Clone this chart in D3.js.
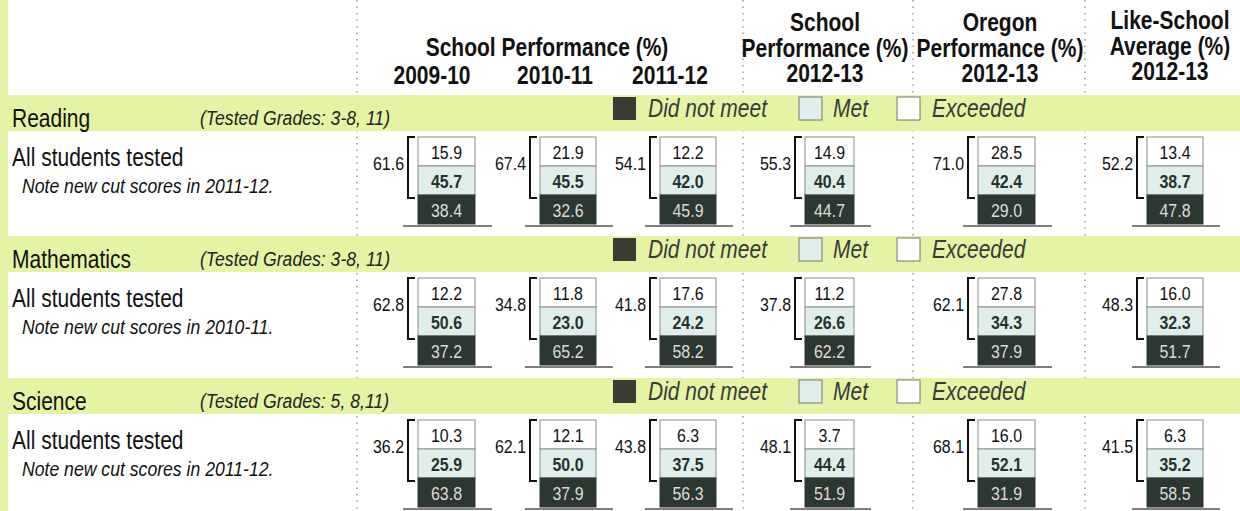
<!DOCTYPE html>
<html>
<head>
<meta charset="utf-8">
<script src="https://cdn.jsdelivr.net/npm/d3@7"></script>
<style>
  body { margin: 0; background: #fff; }
  svg text { font-family: "Liberation Sans", Arial, sans-serif; }
</style>
</head>
<body>
<div id="chart"></div>
<script>
const subjects = ["Reading", "Mathematics", "Science"];
const testedGrades = ["(Tested Grades: 3-8, 11)", "(Tested Grades: 3-8, 11)", "(Tested Grades: 5, 8,11)"];
const notes = ["Note new cut scores in 2011-12.", "Note new cut scores in 2010-11.", "Note new cut scores in 2011-12."];
const columns = ["2009-10", "2010-11", "2011-12", "School 2012-13", "Oregon 2012-13", "Like-School 2012-13"];
const levels = ["Exceeded", "Met", "Did not meet"];

// one row per subject, one value per column
const exceeded = [
  [15.9, 21.9, 12.2, 14.9, 28.5, 13.4],
  [12.2, 11.8, 17.6, 11.2, 27.8, 16.0],
  [10.3, 12.1, 6.3, 3.7, 16.0, 6.3]
];
const met = [
  [45.7, 45.5, 42.0, 40.4, 42.4, 38.7],
  [50.6, 23.0, 24.2, 26.6, 34.3, 32.3],
  [25.9, 50.0, 37.5, 44.4, 52.1, 35.2]
];
const didNotMeet = [
  [38.4, 32.6, 45.9, 44.7, 29.0, 47.8],
  [37.2, 65.2, 58.2, 62.2, 37.9, 51.7],
  [63.8, 37.9, 56.3, 51.9, 31.9, 58.5]
];
const metOrExceeded = [
  [61.6, 67.4, 54.1, 55.3, 71.0, 52.2],
  [62.8, 34.8, 41.8, 37.8, 62.1, 48.3],
  [36.2, 62.1, 43.8, 48.1, 68.1, 41.5]
];

const width = 1240, height = 511;
const green = "#e5f3a5";
const narrow = 0.84; // squeeze Liberation Sans to look like Arial Narrow

const svg = d3.select("#chart").append("svg")
  .attr("width", width)
  .attr("height", height);

// text helper, condensed horizontally
const addText = (parent, x, y, str) =>
  parent.append("text")
    .attr("transform", `translate(${x},${y}) scale(${narrow},1)`)
    .text(str);

// layout scales
const x = d3.scaleOrdinal().domain(columns).range([418, 540, 660, 805, 978, 1147]);
const boxW = d3.scaleOrdinal().domain(columns).range([57, 56, 56, 49, 57, 56]);
const rowY = d3.scaleOrdinal().domain(subjects).range([95, 236, 378]);
const seg = d3.scaleBand().domain(levels).range([0, 87]);
const fill = d3.scaleOrdinal().domain(levels).range(["#ffffff", "#dfeeeb", "#2c3732"]);
const labelFill = d3.scaleOrdinal().domain(levels).range(["#111", "#24342c", "#dcdcdc"]);
const labelWeight = d3.scaleOrdinal().domain(levels).range(["normal", "bold", "normal"]);
const values = { "Exceeded": exceeded, "Met": met, "Did not meet": didNotMeet };

// left strip
svg.append("rect").attr("x", 0).attr("y", 0).attr("width", 8).attr("height", height).attr("fill", green);

// dotted column separators
svg.selectAll("line.sep")
  .data([357, 743, 913, 1085])
  .enter()
  .append("line")
  .attr("class", "sep")
  .attr("x1", (d) => d).attr("x2", (d) => d)
  .attr("y1", 0).attr("y2", height)
  .attr("stroke", "#9a9a9a")
  .attr("stroke-width", 1.5)
  .attr("stroke-dasharray", "1.5,5");

// header
const header = svg.append("g").attr("font-weight", "bold").attr("font-size", 25).attr("fill", "#111").attr("text-anchor", "middle");
addText(header, 547, 56, "School Performance (%)");
[["2009-10", 432], ["2010-11", 555], ["2011-12", 670]].forEach(([t, cx]) => {
  addText(header, cx, 84, t);
});
const rightHeads = [
  [825, ["School", "Performance (%)", "2012-13"], 31],
  [1000, ["Oregon", "Performance (%)", "2012-13"], 31],
  [1170, ["Like-School", "Average (%)", "2012-13"], 29]
];
rightHeads.forEach(([cx, lines, y0]) => {
  lines.forEach((t, i) => addText(header, cx, y0 + i * 25.5, t));
});

subjects.forEach((subject, si) => {
  const top = rowY(subject);
  const g = svg.append("g");

  g.append("rect").attr("x", 0).attr("y", top).attr("width", width).attr("height", 36).attr("fill", green);

  addText(g, 12, top + 32, subject).attr("font-size", 25).attr("fill", "#111");
  addText(g, 200, top + 30, testedGrades[si]).attr("font-size", 21).attr("font-style", "italic").attr("fill", "#222");
  addText(g, 12, top + 71, "All students tested").attr("font-size", 25).attr("fill", "#111");
  addText(g, 22, top + 98, notes[si]).attr("font-size", 21).attr("font-style", "italic").attr("fill", "#111");

  // legend
  const legend = [["Did not meet", 613, 648], ["Met", 799, 833], ["Exceeded", 897, 932]];
  legend.forEach(([lvl, sx, tx]) => {
    g.append("rect")
      .attr("x", sx).attr("y", top + 2).attr("width", 23).attr("height", 23)
      .attr("fill", lvl === "Did not meet" ? "#3b3b36" : fill(lvl))
      .attr("stroke", lvl === "Did not meet" ? "none" : "#777")
      .attr("stroke-width", 1);
    addText(g, tx, top + 22, lvl).attr("font-size", 25).attr("font-style", "italic").attr("fill", "#3a3a3a");
  });

  const boxTop = top + 42;

  columns.forEach((col, ci) => {
    const bx = x(col), bw = boxW(col);
    const cell = g.append("g");

    cell.selectAll("rect.seg")
      .data(levels)
      .enter()
      .append("rect")
      .attr("class", "seg")
      .attr("x", bx)
      .attr("y", (d) => boxTop + seg(d))
      .attr("width", bw)
      .attr("height", seg.bandwidth())
      .attr("fill", (d) => fill(d))
      .attr("stroke", (d) => (d === "Did not meet" ? fill(d) : "#8c8c8c"))
      .attr("stroke-width", 1);

    cell.selectAll("text.val")
      .data(levels)
      .enter()
      .append("text")
      .attr("class", "val")
      .attr("transform", (d) => `translate(${bx + bw / 2},${boxTop + seg(d) + seg.bandwidth() / 2 + 7}) scale(${narrow},1)`)
      .attr("text-anchor", "middle")
      .attr("font-size", 19)
      .attr("font-weight", (d) => labelWeight(d))
      .attr("fill", (d) => labelFill(d))
      .text((d) => values[d][si][ci].toFixed(1));

    // bracket over met + exceeded
    const by = boxTop + seg("Met") + seg.bandwidth() + 3;
    cell.append("path")
      .attr("d", `M${bx - 3},${boxTop} H${bx - 10} V${by} H${bx - 3}`)
      .attr("fill", "none")
      .attr("stroke", "#111")
      .attr("stroke-width", 2);

    addText(cell, bx - 14, boxTop + 33, metOrExceeded[si][ci].toFixed(1))
      .attr("text-anchor", "end")
      .attr("font-size", 19)
      .attr("fill", "#111");

    // base line
    cell.append("line")
      .attr("x1", bx - 15).attr("x2", bx + bw + 17)
      .attr("y1", boxTop + 89).attr("y2", boxTop + 89)
      .attr("stroke", "#555")
      .attr("stroke-width", 1.5);
  });
});
</script>
</body>
</html>
